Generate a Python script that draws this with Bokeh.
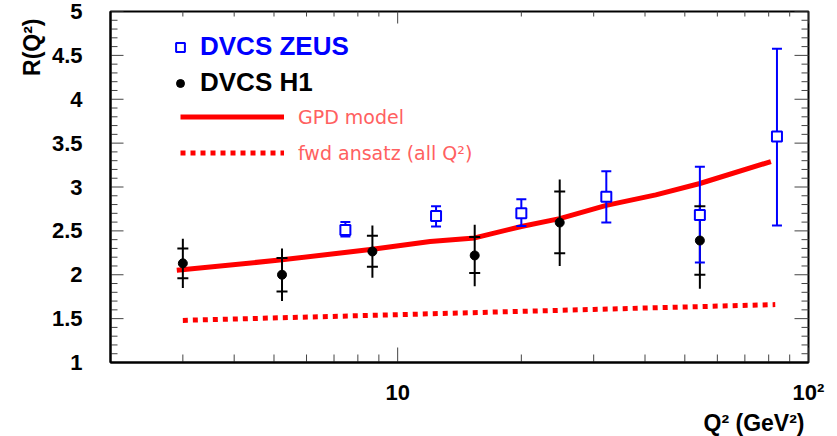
import numpy as np
from bokeh.plotting import figure
from bokeh.models import (FixedTicker, CustomJSTickFormatter, Legend, LegendItem, Title)
from bokeh.embed import file_html
from bokeh.resources import INLINE

# ---------------- data ----------------
h1_q2 = [3.0, 5.23, 8.68, 15.4, 24.8, 54.4]
h1_r = [2.13, 2.00, 2.265, 2.22, 2.595, 2.39]
h1_stat_lo = [1.96, 1.81, 2.09, 2.02, 2.245, 2.00]
h1_stat_hi = [2.30, 2.19, 2.445, 2.43, 2.95, 2.78]
h1_tot_lo = [1.85, 1.70, 1.965, 1.87, 2.10, 1.84]
h1_tot_hi = [2.41, 2.30, 2.56, 2.57, 3.085, 2.81]

zeus_q2 = [7.46, 12.4, 20.0, 32.2, 54.4, 83.8]
zeus_r = [2.51, 2.67, 2.70, 2.89, 2.68, 3.575]
zeus_lo = [2.435, 2.55, 2.555, 2.595, 2.14, 2.56]
zeus_hi = [2.60, 2.78, 2.86, 3.18, 3.23, 4.575]

gpd_q2 = [2.9, 5.23, 8.68, 12.0, 15.4, 20.0, 24.8, 32.2, 42.5, 54.4, 81.0]
gpd_r = [2.05, 2.17, 2.29, 2.38, 2.42, 2.55, 2.64, 2.79, 2.91, 3.04, 3.29]

fwd_q2 = [3.0, 10.0, 30.0, 83.0]
fwd_r = [1.48, 1.545, 1.605, 1.66]

x_lo, x_hi = 2, 100
y_lo, y_hi = 1, 5
x_major = [10, 100]
x_minor = [3, 4, 5, 6, 7, 8, 9, 20, 30, 40, 50, 60, 70, 80, 90]
y_major = [1, 1.5, 2, 2.5, 3, 3.5, 4, 4.5, 5]
y_minor = [round(v, 1) for v in np.arange(1.1, 5.0, 0.1) if abs(v * 2 - round(v * 2)) > 1e-6]

# ---------------- figure ----------------
p = figure(width=837, height=436, x_axis_type="log", x_range=(x_lo, x_hi), y_range=(y_lo, y_hi),
           output_backend="svg", toolbar_location=None,
           min_border_left=110, min_border_right=29, min_border_top=11, min_border_bottom=74)
p.xgrid.visible = False
p.ygrid.visible = False
p.outline_line_color = "black"
p.outline_line_width = 2
p.background_fill_color = "white"
p.border_fill_color = "white"

TICK = "#444444"
FONT = "Liberation Sans"

xa = p.xaxis[0]
xa.ticker = FixedTicker(ticks=x_major, minor_ticks=x_minor)
xa.formatter = CustomJSTickFormatter(code="return tick == 10 ? '10' : (tick == 100 ? '10²' : '')")
for ax in (p.xaxis[0], p.yaxis[0]):
    ax.major_tick_in = 0
    ax.major_tick_out = 0
    ax.minor_tick_in = 0
    ax.minor_tick_out = 0
    ax.axis_line_color = "black"
    ax.axis_line_width = 2
    ax.major_label_text_font = FONT
    ax.major_label_text_font_style = "bold"
    ax.major_label_text_font_size = "22px"
    ax.major_label_text_color = "black"
xa.major_label_standoff = 17

ya = p.yaxis[0]
ya.ticker = FixedTicker(ticks=y_major, minor_ticks=y_minor)
ya.formatter = CustomJSTickFormatter(code="return String(tick)")
ya.major_label_standoff = 28

# axis titles as side titles
p.add_layout(Title(text="R(Q²)", align="right", text_font=FONT, text_font_style="bold",
                   text_font_size="23px", text_color="black", standoff=7, offset=7), "left")
p.add_layout(Title(text="Q² (GeV²)", align="right", text_font=FONT, text_font_style="bold",
                   text_font_size="23px", text_color="black", standoff=0, offset=4), "below")

# ---------------- tick marks drawn inside the frame (ROOT style) ----------------
def ticks_x(vals, yedge, length):
    p.scatter(x=vals, y=[yedge] * len(vals), marker="dash", angle=np.pi / 2, size=2 * length,
              line_color=TICK, line_width=1)

def ticks_y(vals, xedge, length):
    p.scatter(x=[xedge] * len(vals), y=vals, marker="dash", size=2 * length,
              line_color=TICK, line_width=1)

ticks_x(x_major, y_lo, 15)
ticks_x(x_minor, y_lo, 8)
ticks_x(x_major, y_hi, 12)
ticks_x(x_minor, y_hi, 5)
ticks_y(y_major, x_lo, 13)
ticks_y(y_minor, x_lo, 7)
ticks_y(y_major, x_hi, 14)
ticks_y(y_minor, x_hi, 7)

# ---------------- glyphs ----------------
r_gpd = p.line(gpd_q2, gpd_r, line_color="#ff0000", line_width=5)
r_fwd = p.line(fwd_q2, fwd_r, line_color="#ff0000", line_width=5, line_dash="5 5")

p.segment(x0=h1_q2, y0=h1_tot_lo, x1=h1_q2, y1=h1_tot_hi, line_color="black", line_width=2)

p.segment(x0=zeus_q2, y0=zeus_lo, x1=zeus_q2, y1=zeus_hi, line_color="#0000ff", line_width=2)
p.scatter(x=zeus_q2 + zeus_q2, y=zeus_lo + zeus_hi, marker="dash", size=10,
          line_color="#0000ff", line_width=2)
r_zeus = p.scatter(x=zeus_q2, y=zeus_r, marker="square", size=10, line_color="#0000ff",
                   line_width=2, fill_color="white")

p.scatter(x=h1_q2 + h1_q2, y=h1_stat_lo + h1_stat_hi, marker="dash", size=11,
          line_color="black", line_width=2)
r_h1 = p.scatter(x=h1_q2, y=h1_r, marker="circle", size=9, line_color="black", fill_color="black")

# ---------------- legends ----------------
def mk_legend(label, rend, loc, gw, gh, standoff, font, style, size, color):
    return Legend(items=[LegendItem(label=label, renderers=[rend])], location=loc,
                  padding=0, margin=0, spacing=0, border_line_alpha=0, background_fill_alpha=0,
                  glyph_width=gw, glyph_height=gh, label_height=gh, label_standoff=standoff,
                  label_text_font=font, label_text_font_style=style,
                  label_text_font_size=size, label_text_color=color)

p.add_layout(mk_legend("DVCS ZEUS", r_zeus, (59, 300), 22, 30, 9, FONT, "bold", "26px", "#0000ff"))
p.add_layout(mk_legend("DVCS H1", r_h1, (60, 264), 20, 30, 10, FONT, "bold", "26px", "black"))
p.add_layout(mk_legend("GPD model", r_gpd, (70, 234), 104, 23, 14, "DejaVu Sans", "normal", "19px", "#ff6060"))
p.add_layout(mk_legend("fwd ansatz (all Q²)", r_fwd, (70, 198), 104, 23, 14, "DejaVu Sans", "normal", "19px", "#ff6060"))

open("out.html", "w").write(file_html(p, INLINE))
